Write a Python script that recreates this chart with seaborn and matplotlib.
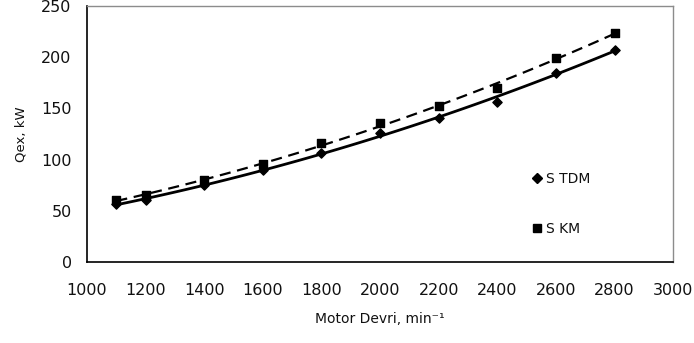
import numpy as np
import pandas as pd
import matplotlib
matplotlib.use("Agg")
import matplotlib.pyplot as plt
import seaborn as sns
from matplotlib.lines import Line2D

rpm = [1100, 1200, 1400, 1600, 1800, 2000, 2200, 2400, 2600, 2800]
stdm = [56.5, 60.5, 75, 90, 106, 126, 141, 156.5, 185, 207]
skm = [60.5, 65, 80, 95.5, 116, 135.5, 152, 170, 199.5, 224]
labels = ["S TDM", "S KM"]
x_ticks = [1000, 1200, 1400, 1600, 1800, 2000, 2200, 2400, 2600, 2800, 3000]
y_ticks = [0, 50, 100, 150, 200, 250]

sns.set_theme(style="white")
plt.rcParams['font.family'] = ['DejaVu Sans']

df1 = pd.DataFrame({"rpm": rpm, "q": stdm})
df2 = pd.DataFrame({"rpm": rpm, "q": skm})

fig = plt.figure(figsize=(6.94, 3.43), dpi=100)
ax = fig.add_axes([0.1254, 0.236, 0.8446, 0.7465])

sns.regplot(data=df1, x="rpm", y="q", order=2, ci=None, ax=ax, marker="D",
            scatter_kws=dict(color="black", s=22, zorder=3, alpha=1),
            line_kws=dict(color="black", lw=2.0, ls="-"))
sns.regplot(data=df2, x="rpm", y="q", order=2, ci=None, ax=ax, marker="s",
            scatter_kws=dict(color="black", s=30, zorder=3, alpha=1),
            line_kws=dict(color="black", lw=1.6, ls=(0, (5, 3))))

ax.set_xlim(1000, 3000)
ax.set_ylim(0, 250)
ax.set_xticks(x_ticks)
ax.set_yticks(y_ticks)
ax.tick_params(axis="both", which="major", direction="out", length=5, width=1,
               color="black", labelsize=11.5, labelcolor="#111111", pad=6)
ax.tick_params(axis="x", pad=10)
for s in ["left", "bottom"]:
    ax.spines[s].set_color("black")
    ax.spines[s].set_linewidth(1.2)
for s in ["top", "right"]:
    ax.spines[s].set_color("#8c8c8c")
    ax.spines[s].set_linewidth(1.0)

ax.set_xlabel("Motor Devri, min\u207b\u00b9", fontsize=10, labelpad=10, color="#111111")
ax.set_ylabel("Qex, kW", fontsize=9.5, labelpad=10, color="#111111")

handles = [Line2D([], [], marker="D", color="black", ls="none", markersize=5),
           Line2D([], [], marker="s", color="black", ls="none", markersize=5.5)]
leg = ax.legend(handles, labels, loc="upper left", bbox_to_anchor=(0.74, 0.40),
                frameon=False, fontsize=10, handlelength=0.6, handletextpad=0.3,
                labelspacing=2.55)
for t in leg.get_texts():
    t.set_color("#111111")

fig.savefig("out.png", dpi=100)
